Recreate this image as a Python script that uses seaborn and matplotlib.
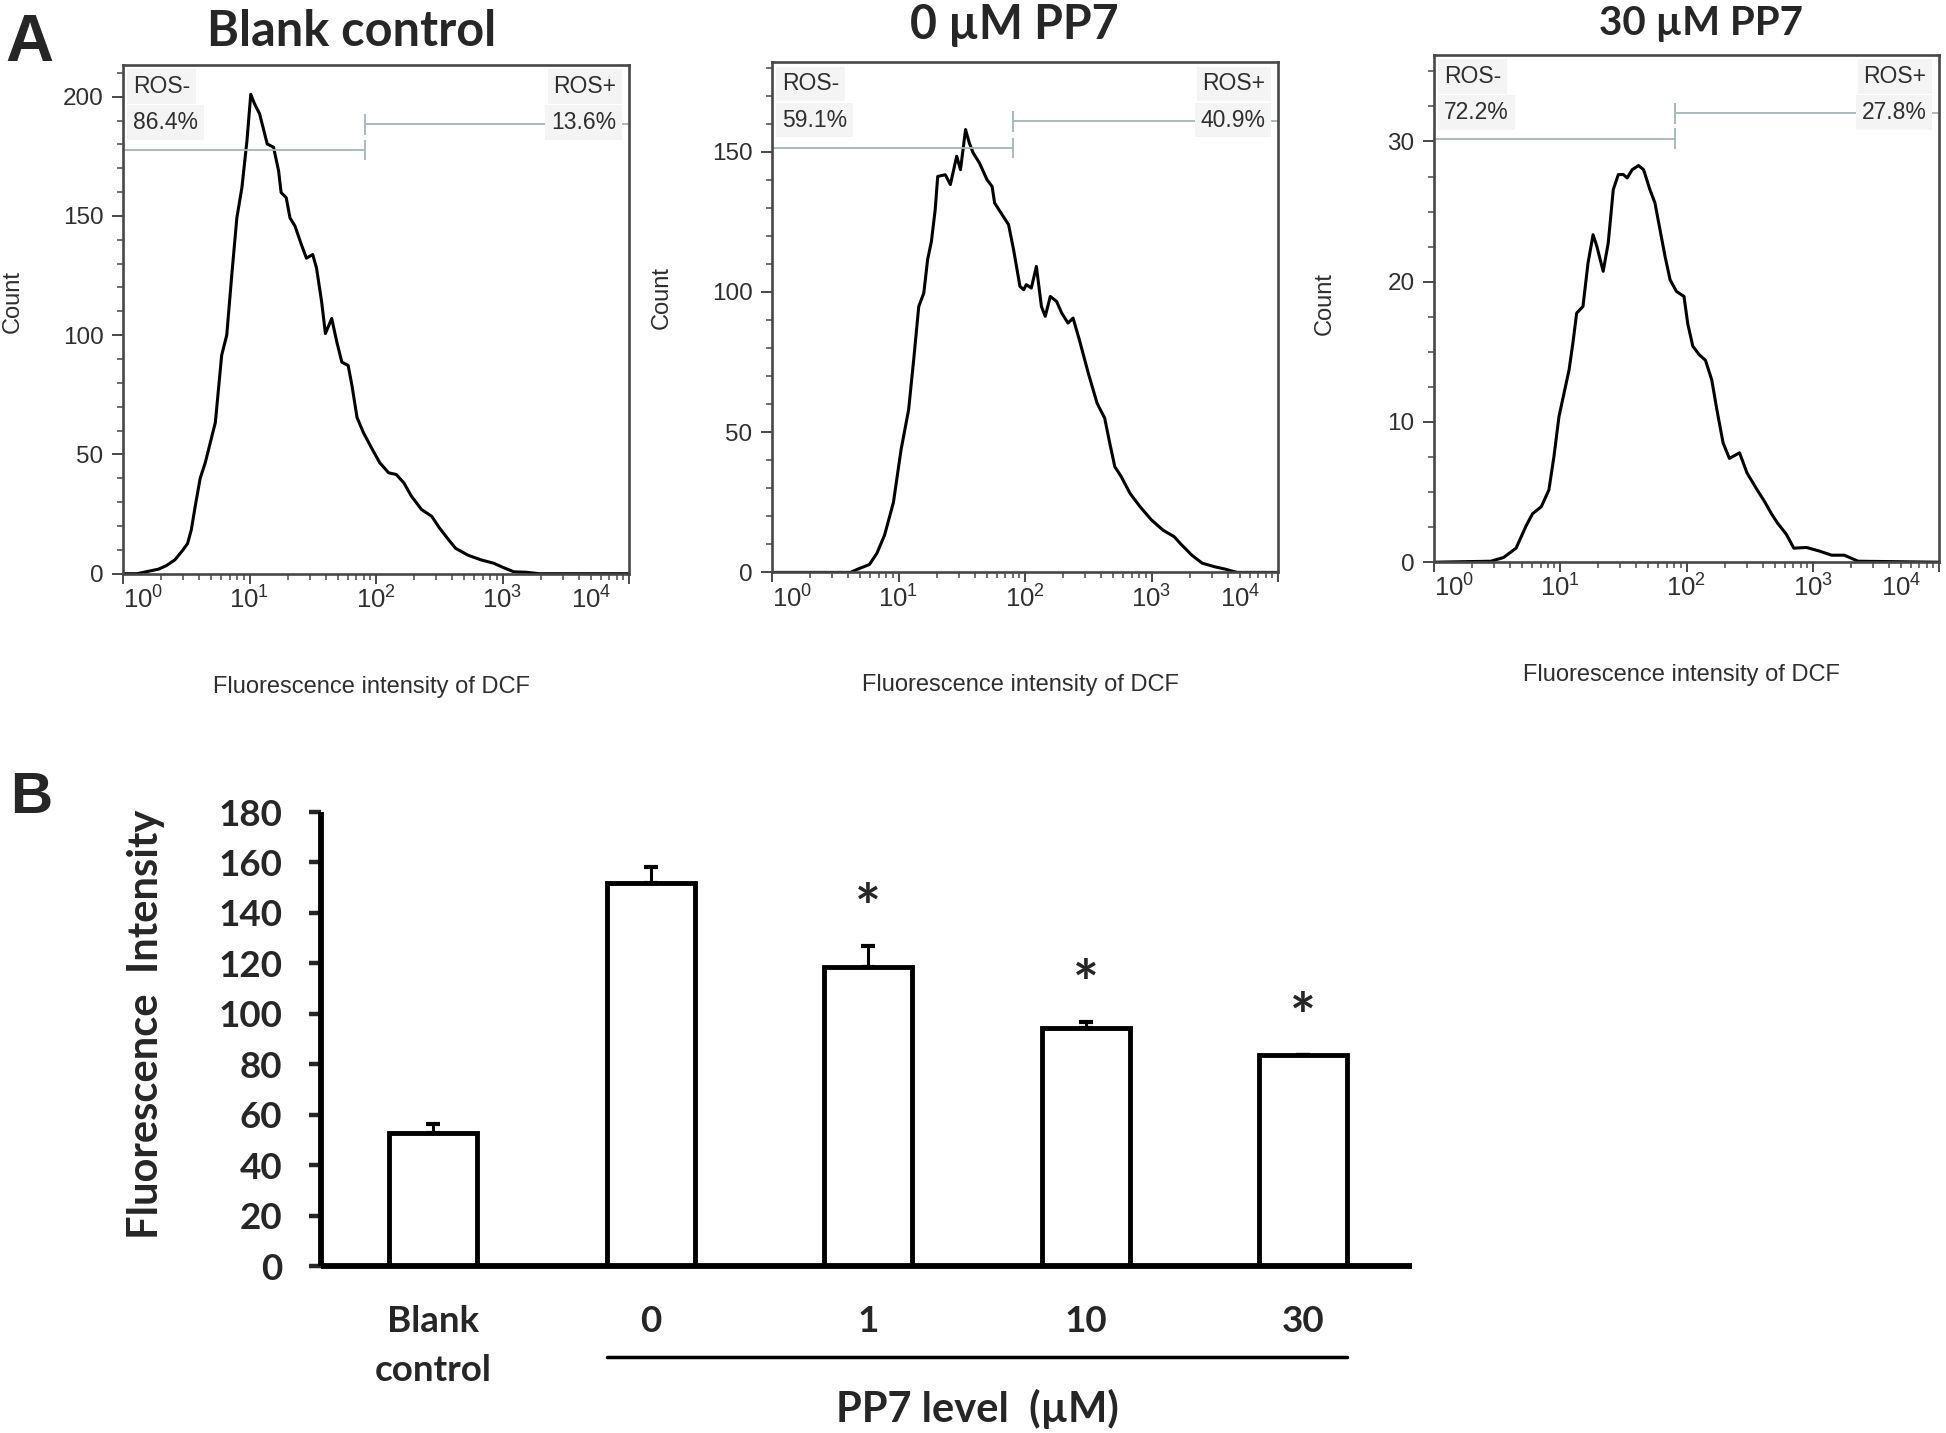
import numpy as np
import pandas as pd
import matplotlib
matplotlib.use('Agg')
import matplotlib.pyplot as plt
import matplotlib.ticker as mticker
import matplotlib.transforms as mtrans
import seaborn as sns

###########################################################
# Panel A : DCF histograms (x = log10 intensity, y = count)
###########################################################
blank_logx = [0.00, 0.11, 0.20, 0.28, 0.34, 0.41, 0.47, 0.51, 0.54, 0.57,
              0.61, 0.65, 0.73, 0.75, 0.78, 0.82, 0.86, 0.90, 0.94, 0.98,
              1.01, 1.04, 1.08, 1.14, 1.19, 1.23, 1.25, 1.29, 1.32, 1.36,
              1.41, 1.45, 1.50, 1.53, 1.57, 1.60, 1.65, 1.69, 1.73, 1.78,
              1.81, 1.85, 1.90, 1.97, 2.03, 2.10, 2.16, 2.22, 2.28, 2.36,
              2.44, 2.50, 2.57, 2.63, 2.73, 2.83, 2.93, 3.01, 3.09, 3.19,
              3.29, 4.00]
blank_count = [0, 0, 1.0, 1.9, 3.3, 5.8, 9.7, 12.6, 18.4, 28,
               40, 46.5, 63.4, 74.7, 91.6, 100, 125.3, 149.2, 161.9, 181.6,
               201, 197, 192.8, 180.2, 178.8, 168.9, 159.8, 157.7, 149.2, 145.7,
               138, 132.3, 133.8, 128.1, 114.1, 100.7, 107, 97.2, 88.7, 87.3,
               78.9, 65.5, 59.2, 52.2, 46.5, 42.3, 41.6, 38.1, 32.5, 26.9,
               24.1, 19.3, 14.5, 10.6, 7.7, 5.8, 4.4, 2.5, 0.8, 0.6,
               0, 0]

pp0_logx = [0.00, 0.62, 0.68, 0.77, 0.83, 0.89, 0.96, 1.02, 1.08, 1.12,
            1.16, 1.20, 1.23, 1.26, 1.29, 1.31, 1.37, 1.41, 1.46, 1.49,
            1.53, 1.56, 1.59, 1.64, 1.70, 1.74, 1.76, 1.81, 1.87, 1.91,
            1.96, 1.99, 2.01, 2.05, 2.09, 2.13, 2.16, 2.20, 2.25, 2.29,
            2.34, 2.38, 2.43, 2.50, 2.57, 2.63, 2.67, 2.71, 2.76, 2.83,
            2.91, 3.00, 3.09, 3.18, 3.23, 3.32, 3.40, 3.50, 3.58, 3.65,
            3.68, 4.00]
pp0_count = [0, 0, 1.2, 2.8, 6.9, 13.3, 25, 43.7, 58, 75.8,
             94.8, 99.6, 111.5, 118, 129.3, 141.2, 141.8, 138.3, 148.4, 143.6,
             157.9, 153.1, 149.6, 146, 140, 137.6, 131.7, 128.2, 124, 115,
             102, 100.8, 102.6, 101.4, 109.1, 94.8, 91.3, 98.4, 96.6, 92.5,
             88.9, 90.7, 82.9, 71.1, 60.3, 55, 46.1, 37.7, 34.2, 28.2,
             23.4, 18.7, 15.1, 12.7, 10.2, 6.1, 3.3, 2.0, 1.2, 0.3,
             0, 0]

pp30_logx = [0.00, 0.45, 0.55, 0.65, 0.73, 0.78, 0.85, 0.91, 0.95, 0.99,
             1.03, 1.07, 1.10, 1.13, 1.18, 1.22, 1.26, 1.29, 1.34, 1.38,
             1.42, 1.46, 1.50, 1.53, 1.57, 1.62, 1.66, 1.71, 1.75, 1.79,
             1.83, 1.87, 1.92, 1.98, 2.01, 2.05, 2.10, 2.15, 2.20, 2.24,
             2.29, 2.34, 2.42, 2.48, 2.56, 2.62, 2.67, 2.72, 2.79, 2.85,
             2.95, 3.05, 3.15, 3.25, 3.36, 4.00]
pp30_count = [0, 0.07, 0.33, 1.0, 2.6, 3.45, 3.96, 5.15, 7.53, 10.39,
              12.05, 13.72, 15.62, 17.76, 18.24, 21.33, 23.35, 22.52, 20.74, 22.76,
              26.57, 27.64, 27.64, 27.4, 27.99, 28.28, 27.99, 26.57, 25.62, 23.71,
              21.81, 20.14, 19.31, 18.95, 17.0, 15.4, 14.8, 14.4, 13.0, 10.9,
              8.5, 7.4, 7.8, 6.35, 5.15, 4.3, 3.5, 2.8, 2.0, 1.0,
              1.05, 0.8, 0.5, 0.5, 0.07, 0]

hist_titles = ['Blank control', '0 µM PP7', '30 µM PP7']
ros_neg_pct = ['86.4%', '59.1%', '72.2%']
ros_pos_pct = ['13.6%', '40.9%', '27.8%']
gate_x = [82, 81, 81]
gate_neg_y = [177.6, 151.3, 30.2]
gate_pos_y = [188.4, 160.8, 32.0]
count_ticks = [[0, 50, 100, 150, 200], [0, 50, 100, 150], [0, 10, 20, 30]]
count_minor = [10, 10, 2.5]
count_top = [213.5, 182, 36.2]

###########################################################
# Panel B : mean fluorescence intensity
###########################################################
groups = ['Blank\ncontrol', '0', '1', '10', '30']
fi_mean = [52.9, 152.0, 118.7, 94.4, 83.7]
fi_err = [3.5, 6.0, 8.0, 2.2, 0.0]
signif = ['', '', '*', '*', '*']

# layout (figure pixels -> fractions)
W, H = 1946, 1433
hist_px = [(123, 629, 64.5, 573.7), (772, 1278, 62, 572.4), (1434, 1939, 54.5, 562.2)]
title_pos = [(0.451, 1.037), (0.478, 1.046), (0.528, 1.038)]
title_size = [35, 33.5, 29]
count_label_y = [0.535, 0.538, 0.51]

sns.set_style('ticks')
plt.rcParams['font.family'] = ['Liberation Sans', 'DejaVu Sans']
plt.rcParams['mathtext.fontset'] = 'custom'
plt.rcParams['mathtext.rm'] = 'Liberation Sans'
plt.rcParams['mathtext.it'] = 'Liberation Sans:italic'
plt.rcParams['mathtext.bf'] = 'Liberation Sans:bold'

fig = plt.figure(figsize=(W / 100, H / 100), dpi=100)

grey = '#2e2e2e'
spine_col = '#474747'
gate_col = '#a3b5b5'
box = dict(boxstyle='square,pad=0.25', fc='#f4f4f4', ec='none')

hist_data = [(blank_logx, blank_count), (pp0_logx, pp0_count), (pp30_logx, pp30_count)]
for i, (lx, cnt) in enumerate(hist_data):
    l, r, t, b = hist_px[i]
    ax = fig.add_axes([l / W, 1 - b / H, (r - l) / W, (b - t) / H])
    df = pd.DataFrame({'intensity': np.power(10.0, lx), 'count': cnt})
    sns.lineplot(data=df, x='intensity', y='count', ax=ax, color='black',
                 lw=2.2, estimator=None, sort=False)
    ax.set_xscale('log')
    ax.set_xlim(1, 1e4)
    ax.set_ylim(0, count_top[i])
    ax.set_xticks([1, 10, 100, 1000, 10000])
    ax.xaxis.set_minor_locator(mticker.LogLocator(base=10, subs=np.arange(2, 10), numticks=20))
    ax.xaxis.set_minor_formatter(mticker.NullFormatter())
    ax.set_yticks(count_ticks[i])
    ax.yaxis.set_minor_locator(mticker.MultipleLocator(count_minor[i]))

    for s in ax.spines.values():
        s.set_visible(True)
        s.set_color(spine_col)
        s.set_linewidth(1.9)
    ax.tick_params(axis='both', which='both', colors=spine_col, labelcolor=grey)
    ax.tick_params(axis='x', which='major', length=7, width=1.4, pad=2, labelsize=18.5)
    ax.tick_params(axis='x', which='minor', length=4, width=1.1)
    ax.tick_params(axis='y', which='major', length=8, width=1.4, pad=6, labelsize=17.5)
    ax.tick_params(axis='y', which='minor', length=4.5, width=1.1)
    mt = ax.xaxis.get_major_ticks()
    mt[0].label1.set_horizontalalignment('left')
    mt[-1].label1.set_horizontalalignment('right')
    mt[-1].label1.set_transform(mt[-1].label1.get_transform()
                                + mtrans.ScaledTranslation(-13 / 72, 0, fig.dpi_scale_trans))

    ax.set_xlabel('Fluorescence intensity of DCF', fontsize=17, color=grey)
    ax.xaxis.set_label_coords(0.49, -0.2)
    ax.set_ylabel('Count', fontsize=17, color=grey)
    ax.yaxis.set_label_coords(-0.217, count_label_y[i])
    ax.yaxis.label.set_va('center')

    # ROS- / ROS+ gates
    h = count_top[i] * 0.02
    ax.hlines(gate_neg_y[i], 1, gate_x[i], color=gate_col, lw=1.3)
    ax.vlines(gate_x[i], gate_neg_y[i] - h, gate_neg_y[i] + h, color=gate_col, lw=1.3)
    ax.hlines(gate_pos_y[i], gate_x[i], 1e4, color=gate_col, lw=1.3)
    ax.vlines(gate_x[i], gate_pos_y[i] - h, gate_pos_y[i] + h, color=gate_col, lw=1.3)
    for txt, xx, yy, ha in [('ROS-', 0.02, 0.957, 'left'), (ros_neg_pct[i], 0.02, 0.886, 'left'),
                            ('ROS+', 0.975, 0.957, 'right'), (ros_pos_pct[i], 0.975, 0.886, 'right')]:
        ax.text(xx, yy, txt, transform=ax.transAxes, ha=ha, va='center',
                fontsize=16.5, color=grey, bbox=box, zorder=5)

    ax.text(title_pos[i][0], title_pos[i][1], hist_titles[i], transform=ax.transAxes,
            ha='center', va='baseline', fontsize=title_size[i], fontweight='bold', family='Lato')

fig.text(5 / W, 1 - 61 / H, 'A', ha='left', va='baseline', fontsize=48, fontweight='bold')
fig.text(10 / W, 1 - 813 / H, 'B', ha='left', va='baseline', fontsize=42, fontweight='bold')

# ---------------- panel B bar chart
axb = fig.add_axes([321 / W, 1 - 1266 / H, (1412 - 321) / W, (1266 - 812) / H])
dfb = pd.DataFrame({'group': groups, 'fi': fi_mean})
sns.barplot(data=dfb, x='group', y='fi', order=groups, ax=axb, color='white',
            saturation=1, edgecolor='black', linewidth=3.5, width=0.404, errorbar=None)
pos = np.arange(len(groups))
axb.errorbar(pos, fi_mean, yerr=[np.zeros(len(fi_err)), fi_err], fmt='none',
             ecolor='black', elinewidth=2.2, capsize=5, capthick=3, zorder=4)
for i, s in enumerate(signif):
    if s:
        axb.text(pos[i], fi_mean[i] + fi_err[i] + 14, s, ha='center', va='center',
                 fontsize=44, fontweight='bold', family='Lato')

axb.set_xlim(-0.515, 4.5)
axb.set_ylim(0, 180)
axb.set_yticks(np.arange(0, 181, 20))
sns.despine(ax=axb)
for side in ['left', 'bottom']:
    axb.spines[side].set_linewidth(4.2)
    axb.spines[side].set_color('black')
    axb.spines[side].set_capstyle('butt')
axb.tick_params(axis='y', length=9, width=3.2, pad=19, labelsize=26.5)
axb.tick_params(axis='x', length=0, pad=28, labelsize=26.5)
axb.set_xticks(pos)
axb.set_xticklabels(groups, linespacing=1.6)
for lab in axb.get_xticklabels() + axb.get_yticklabels():
    lab.set_fontweight('bold')
    lab.set_family('Lato')
axb.set_xlabel('')
axb.set_ylabel('Fluorescence  Intensity', fontsize=30, fontweight='bold', family='Lato')
axb.yaxis.set_label_coords(-0.16, 0.533)
axb.yaxis.label.set_va('center')

blend = mtrans.blended_transform_factory(axb.transData, axb.transAxes)
axb.plot([pos[1] - 0.202, pos[-1] + 0.202], [-0.2, -0.2], transform=blend,
         clip_on=False, color='black', lw=2.5)
axb.text((pos[1] + pos[-1]) / 2, -0.315, 'PP7 level  (µM)', transform=blend,
         ha='center', va='center', fontsize=30, fontweight='bold', family='Lato')

fig.savefig('out.png', dpi=100)
